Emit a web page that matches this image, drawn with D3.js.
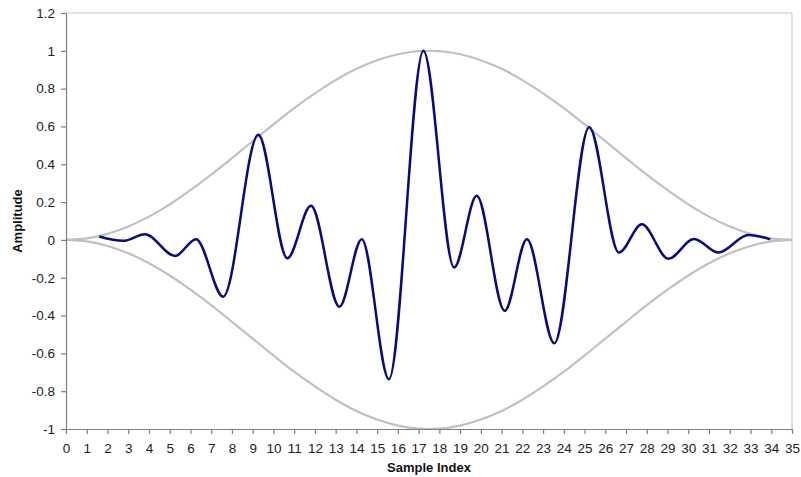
<!DOCTYPE html>
<html>
<head>
<meta charset="utf-8">
<script src="https://cdn.jsdelivr.net/npm/d3@7/dist/d3.min.js"></script>
<style>
  html, body { margin: 0; padding: 0; background: #fff; }
  svg { display: block; }
  text { font-family: "Liberation Sans", Arial, sans-serif; }
</style>
</head>
<body>
<svg id="chart" width="801" height="477"></svg>
<script>
// ---- Data ----
const sampleX = [1.6, 2.75, 3.81, 5.26, 6.27, 7.58, 9.27, 10.67, 11.81, 13.18, 14.26, 15.57,
  17.23, 18.71, 19.80, 21.15, 22.22, 23.54, 25.22, 26.66, 27.76, 29.04, 30.28, 31.45, 32.9, 33.95];
const signal = [0.018, -0.005, 0.03, -0.085, 0.004, -0.30, 0.556, -0.097, 0.18, -0.353, 0.004, -0.737,
  1.0, -0.146, 0.233, -0.375, 0.004, -0.547, 0.596, -0.067, 0.083, -0.10, 0.005, -0.067, 0.026, 0.003];

const envX = [0,1,2,3,4,5,6,7,8,9,10,11,12,13,14,15,16,17,18,19,20,21,22,23,24,25,26,27,28,29,30,31,32,33,34,35];
const envUpper = [0, 0.008, 0.032, 0.071, 0.123, 0.188, 0.263, 0.345, 0.433, 0.522, 0.611, 0.697, 0.775,
  0.845, 0.905, 0.950, 0.982, 0.998, 0.998, 0.982, 0.950, 0.905, 0.845, 0.775, 0.697, 0.611, 0.522,
  0.433, 0.345, 0.263, 0.188, 0.123, 0.071, 0.032, 0.008, 0];
const envLower = [0, -0.008, -0.032, -0.071, -0.123, -0.188, -0.263, -0.345, -0.433, -0.522, -0.611, -0.697, -0.775,
  -0.845, -0.905, -0.950, -0.982, -0.998, -0.998, -0.982, -0.950, -0.905, -0.845, -0.775, -0.697, -0.611, -0.522,
  -0.433, -0.345, -0.263, -0.188, -0.123, -0.071, -0.032, -0.008, 0];

const xTicks = d3.range(0, 36);
const yTicks = [-1, -0.8, -0.6, -0.4, -0.2, 0, 0.2, 0.4, 0.6, 0.8, 1, 1.2];
const yTickLabels = ["-1", "-0.8", "-0.6", "-0.4", "-0.2", "0", "0.2", "0.4", "0.6", "0.8", "1", "1.2"];
const xTitle = "Sample Index";
const yTitle = "Amplitude";

// ---- Layout ----
const svg = d3.select("#chart");
const pL = 66, pR = 792, pT = 13, pB = 429;
const x = d3.scaleLinear().domain([0, 35]).range([pL, pR]);
const y = d3.scaleLinear().domain([-1, 1.2]).range([pB, pT]);

// plot area border (top & right)
svg.append("path")
  .attr("d", `M${pL},${pT}H${pR}V${pB}`)
  .attr("fill", "none").attr("stroke", "#c4c4c4").attr("stroke-width", 1);

// envelope
const envLine = d3.line().x((d, i) => x(envX[i])).curve(d3.curveCatmullRom.alpha(0.5));
svg.append("path")
  .attr("d", envLine.y((d, i) => y(envUpper[i]))(envX))
  .attr("fill", "none").attr("stroke", "#c0c0c0").attr("stroke-width", 2.2);
svg.append("path")
  .attr("d", envLine.y((d, i) => y(envLower[i]))(envX))
  .attr("fill", "none").attr("stroke", "#c0c0c0").attr("stroke-width", 2.2);

// signal
const sigLine = d3.line()
  .x((d, i) => x(sampleX[i]))
  .y((d, i) => y(signal[i]))
  .curve(d3.curveMonotoneX);
svg.append("path")
  .attr("d", sigLine(sampleX))
  .attr("fill", "none").attr("stroke", "#0a0a80").attr("stroke-width", 2.5)
  .attr("stroke-linejoin", "round");

// axes
const xAxis = d3.axisBottom(x).tickValues(xTicks).tickSizeOuter(0).tickSizeInner(5).tickPadding(9)
  .tickFormat(d3.format("d"));
const gx = svg.append("g").attr("transform", `translate(0,${pB})`).call(xAxis);
const yAxis = d3.axisLeft(y).tickValues(yTicks).tickSizeOuter(0).tickSizeInner(5).tickPadding(6)
  .tickFormat((d, i) => yTickLabels[i]);
const gy = svg.append("g").attr("transform", `translate(${pL},0)`).call(yAxis);

[gx, gy].forEach(g => {
  g.select(".domain").attr("stroke", "#7f7f7f").attr("stroke-width", 1.2);
  g.selectAll(".tick line").attr("stroke", "#7f7f7f").attr("stroke-width", 1.2);
  g.selectAll(".tick text").attr("fill", "#222").style("font-size", "13.5px")
    .style("font-family", "'Liberation Sans', Arial, sans-serif");
});

// titles
svg.append("text")
  .attr("x", (pL + pR) / 2).attr("y", 472)
  .attr("text-anchor", "middle").attr("font-weight", "bold").attr("font-size", 13)
  .attr("fill", "#111").text(xTitle);
svg.append("text")
  .attr("transform", `translate(22,${(pT + pB) / 2}) rotate(-90)`)
  .attr("text-anchor", "middle").attr("font-weight", "bold").attr("font-size", 13)
  .attr("fill", "#111").text(yTitle);
</script>
</body>
</html>
